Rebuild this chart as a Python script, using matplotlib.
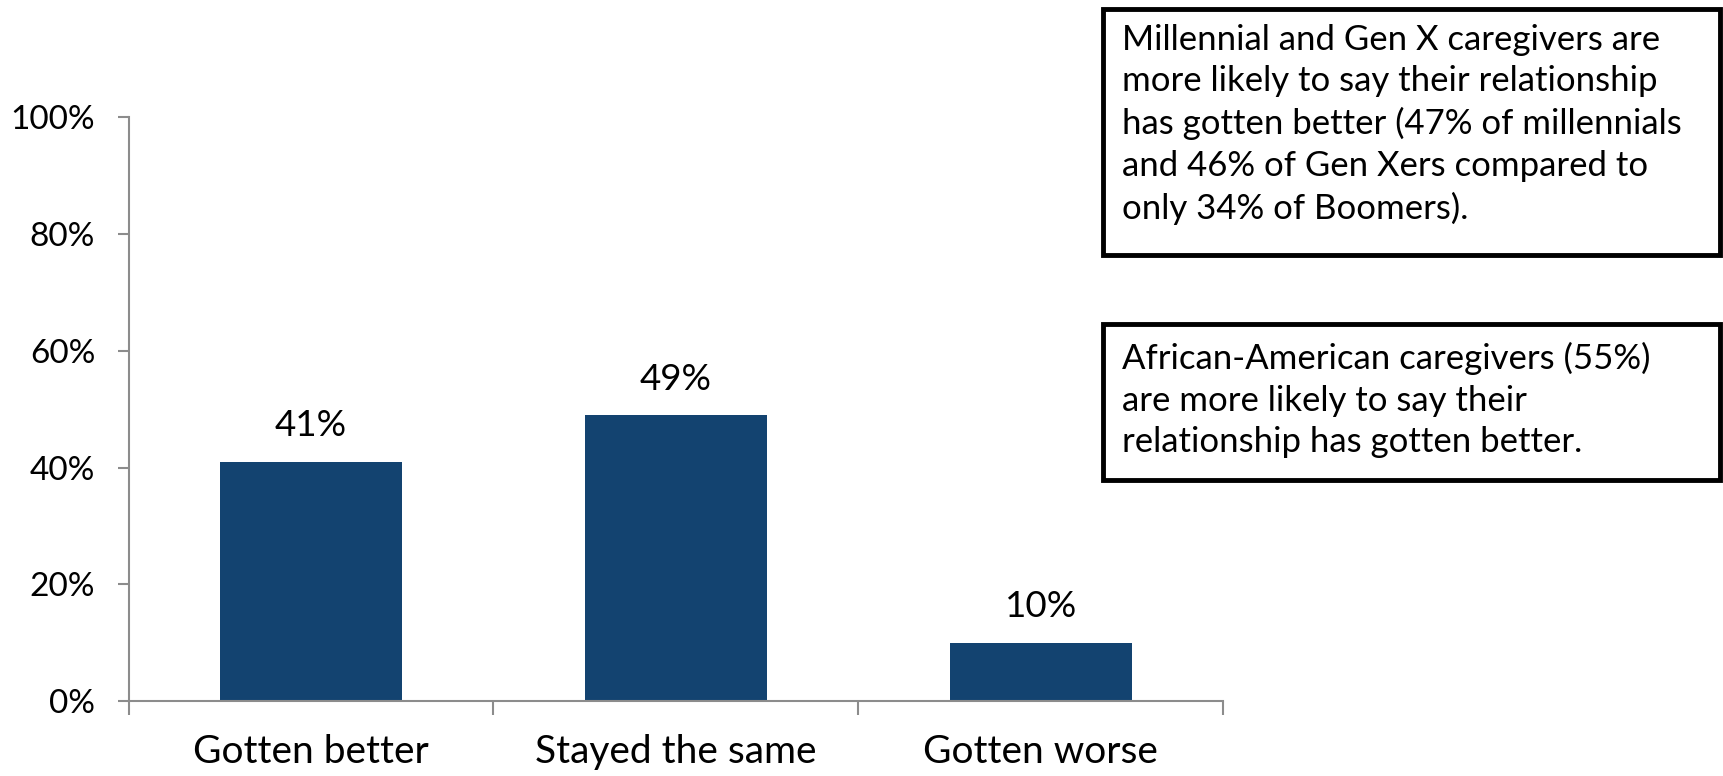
import numpy as np
import matplotlib.pyplot as plt
from matplotlib.patches import Rectangle

plt.rcParams['font.family'] = ['Lato', 'DejaVu Sans']

categories = ['Gotten better', 'Stayed the same', 'Gotten worse']
shares = [41, 49, 10]
yticks = [0, 20, 40, 60, 80, 100]

note_generations = ('Millennial and Gen X caregivers are\n'
                    'more likely to say their relationship\n'
                    'has gotten better (47% of millennials\n'
                    'and 46% of Gen Xers compared to\n'
                    'only 34% of Boomers).')
note_race = ('African-American caregivers (55%)\n'
             'are more likely to say their\n'
             'relationship has gotten better.')

bar_color = '#134370'
axis_color = '#8c8c8c'

fig = plt.figure(figsize=(17.23, 7.76), dpi=100)
ax = fig.add_axes([0.0746, 0.0966, 0.6354, 0.752])

x = np.arange(len(categories))
bars = ax.bar(x, shares, width=0.5, color=bar_color)
for b, v in zip(bars, shares):
    ax.annotate(f'{v}%', (b.get_x() + b.get_width() / 2, v),
                xytext=(0, 14), textcoords='offset points',
                ha='center', va='bottom', fontsize=26.5)

ax.set_xlim(-0.5, len(categories) - 0.5)
ax.set_ylim(0, 100)
ax.set_yticks(yticks)
ax.set_yticklabels([f'{t}%' for t in yticks], fontsize=24)
ax.set_xticks(x)
ax.set_xticklabels(categories, fontsize=28)
ax.set_xticks(np.arange(len(categories) + 1) - 0.5, minor=True)

for side in ['top', 'right']:
    ax.spines[side].set_visible(False)
for side in ['left', 'bottom']:
    ax.spines[side].set_color(axis_color)
    ax.spines[side].set_linewidth(1.5)

ax.tick_params(axis='y', length=8, width=1.5, color=axis_color, pad=16)
ax.tick_params(axis='x', which='major', length=0, pad=24)
ax.tick_params(axis='x', which='minor', length=10, width=1.5, color=axis_color)

# callout boxes on the right
boxes = [(0.640, 0.671, 0.358, 0.318, 0.020, note_generations),
         (0.640, 0.382, 0.358, 0.201, 0.024, note_race)]
for bx, by, bw, bh, inset, txt in boxes:
    fig.patches.append(Rectangle((bx, by), bw, bh, transform=fig.transFigure,
                                 facecolor='white', edgecolor='black',
                                 linewidth=3.5))
    fig.text(bx + 0.011, by + bh - inset, txt, ha='left', va='top',
             fontsize=25, linespacing=1.36)

fig.savefig('out.png', dpi=100)
